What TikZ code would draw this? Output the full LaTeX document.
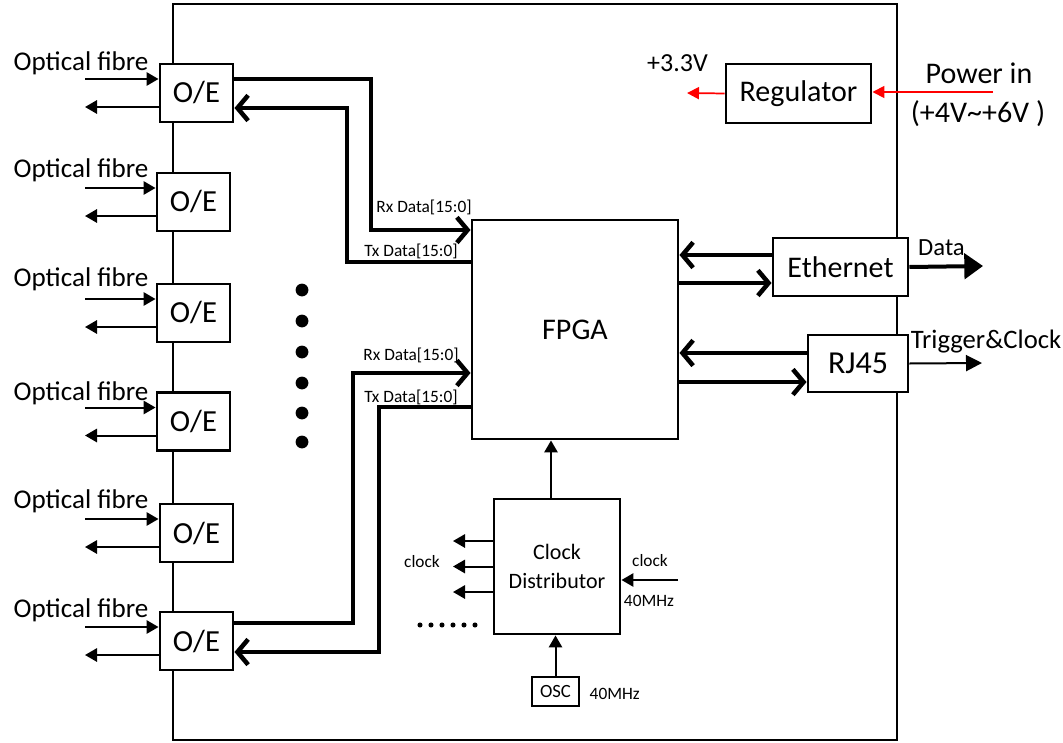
\documentclass[tikz,border=0pt]{standalone}
\usepackage{fontspec}
\setmainfont{Carlito}
\usetikzlibrary{arrows.meta, positioning}

\begin{document}
\begin{tikzpicture}[x=0.75pt, y=-0.75pt,
    blk/.style={draw, line width=2.2pt, fill=white, inner sep=0pt, align=center},
    oebox/.style={blk, minimum width=54.75pt, minimum height=43.5pt, font=\fontsize{23}{25}\selectfont},
    bus/.style={line width=3.4pt, -{Straight Barb[length=8pt, width=19pt]}},
    fin/.style={line width=1.5pt, -{Triangle[length=9pt, width=10pt]}},
    pwr/.style={red, line width=1.3pt, -{Triangle[length=9pt, width=9pt]}},
    small/.style={font=\fontsize{13}{15}\selectfont},
]
    \useasboundingbox (0,0) rectangle (1063,742);

    % board outline
    \draw[line width=1.1pt] (173,4) rectangle (897,740);

    % optical inputs
    \foreach \i/\x/\y/\ly in {1/196.5/93/70, 2/193.5/202/177, 3/193.5/313/286,
                             4/193.5/421.5/400, 5/196.5/533/508, 6/196.5/641/617} {
        \node[oebox] (oe\i) at (\x,\y) {O/E};
        \node[anchor=base west, font=\fontsize{20.3}{22}\selectfont] (fib\i) at (9,\ly) {Optical fibre};
        \coordinate (in\i) at (85,\y-14);
        \coordinate (out\i) at (85,\y+14);
        \draw[fin] (in\i) -- (in\i -| oe\i.west);
        \draw[fin] (out\i -| oe\i.west) -- (out\i);
    }

    % more channels
    \foreach \y in {290,321,352,383,413,442}
        \fill (302,\y) circle (4.8pt);

    % FPGA
    \node[blk, minimum width=154.5pt, minimum height=164.25pt, font=\fontsize{22.5}{24}\selectfont] (fpga) at (575,329.5) {FPGA};

    % data buses
    \coordinate (rx1) at (371,230);
    \coordinate (tx1) at (347,262);
    \coordinate (rx2) at (353,373);
    \coordinate (tx2) at (379,407);
    \draw[bus] ([yshift=10.5pt]oe1.east) -| (rx1) -- (rx1 -| fpga.west);
    \draw[bus] (tx1 -| fpga.west) -- (tx1) |- ([yshift=-11.25pt]oe1.east);
    \draw[bus] ([yshift=13.5pt]oe6.east) -| (rx2) -- (rx2 -| fpga.west);
    \draw[bus] (tx2 -| fpga.west) -- (tx2) |- ([yshift=-8.25pt]oe6.east);
    \node[small] (rxl1) at (424,207) {Rx Data[15:0]};
    \node[small] (txl1) at (411,251) {Tx Data[15:0]};
    \node[small] (rxl2) at (411,355) {Rx Data[15:0]};
    \node[small] (txl2) at (411,397) {Tx Data[15:0]};

    % power
    \node[blk, minimum width=108.75pt, minimum height=44.25pt, font=\fontsize{22.5}{24}\selectfont] (reg) at (798.5,93.5) {Regulator};
    \coordinate (pin) at (993,92);
    \coordinate (v33) at (687,93);
    \draw[pwr] (pin) -- (pin -| reg.east);
    \draw[pwr] (reg.west) -- (v33);
    \node[font=\fontsize{19.5}{21}\selectfont] (v33l) at (677.5,63) {+3.3V};
    \node[font=\fontsize{22.5}{24}\selectfont] (pinl) at (979,73) {Power in};
    \node[font=\fontsize{22.5}{24}\selectfont] (rngl) at (978,114) {(+4V\textasciitilde+6V )};

    % Ethernet
    \node[blk, minimum width=101.25pt, minimum height=43.5pt, font=\fontsize{22.5}{24}\selectfont] (eth) at (840.5,267) {Ethernet};
    \draw[bus] ([yshift=9pt]eth.west) -- ([yshift=9pt]eth.west -| fpga.east);
    \draw[bus] ([yshift=-12pt]eth.west -| fpga.east) -- ([yshift=-12pt]eth.west);
    \coordinate (dout) at (983,266);
    \draw[line width=3pt, -{Triangle[length=14pt, width=19pt]}] (eth.east) -- (dout);
    \node[font=\fontsize{18.5}{20}\selectfont] (datal) at (941.5,248) {Data};

    % RJ45
    \node[blk, minimum width=75pt, minimum height=42.75pt, font=\fontsize{24}{26}\selectfont] (rj) at (858,363.5) {RJ45};
    \draw[bus] ([yshift=7.9pt]rj.west) -- ([yshift=7.9pt]rj.west -| fpga.east);
    \draw[bus] ([yshift=-13.9pt]rj.west -| fpga.east) -- ([yshift=-13.9pt]rj.west);
    \coordinate (tout) at (982,363);
    \draw[line width=1.5pt, -{Triangle[length=12pt, width=12pt]}] (rj.east) -- (tout);
    \node[font=\fontsize{20}{22}\selectfont] (trgl) at (986,342) {Trigger\&Clock};

    % clock distribution
    \node[blk, minimum width=94.5pt, minimum height=101.25pt, font=\fontsize{16.5}{22}\selectfont] (cd) at (557,566.5) {Clock\\Distributor};
    \draw[fin] ([xshift=-4.5pt]cd.north) -- ([xshift=-4.5pt]cd.north |- fpga.south);
    \foreach \i/\y in {1/541, 2/566.5, 3/592} {
        \coordinate (ck\i) at (453,\y);
        \draw[fin] (ck\i -| cd.west) -- (ck\i);
    }
    \node[small] (ckl) at (422,562) {clock};
    \foreach \x in {420,431,442,453,464,475}
        \fill (\x,625) circle (1.9pt);
    \coordinate (ckin) at (678,580);
    \draw[fin] (ckin) -- (ckin -| cd.east);
    \node[small] (ckinl) at (650,561) {clock};
    \node[small] (ckfl) at (649,601) {40MHz};

    % oscillator
    \node[blk, minimum width=35.25pt, minimum height=21.75pt, font=\fontsize{14}{16}\selectfont] (osc) at (555.5,691.5) {OSC};
    \draw[fin] (osc.north) -- (osc.north |- cd.south);
    \node[small, anchor=west] (oscl) at (585,694) {40MHz};
\end{tikzpicture}
\end{document}
